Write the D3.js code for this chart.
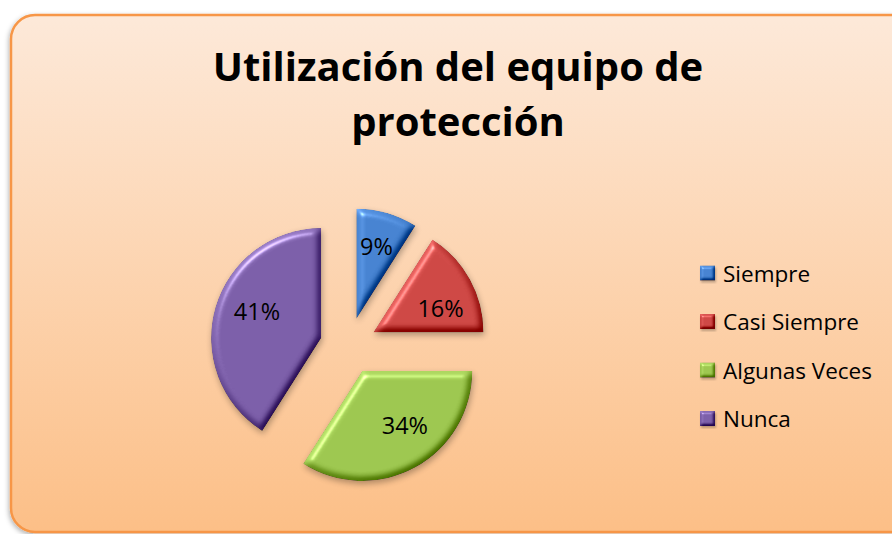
<!DOCTYPE html>
<html>
<head>
<meta charset="utf-8">
<script src="https://cdn.jsdelivr.net/npm/d3@7"></script>
<style>
  html, body { margin: 0; padding: 0; background: #ffffff; }
  svg { display: block; }
</style>
</head>
<body>
<svg id="chart" width="892" height="534"></svg>
<script>
// Survey answers: how often the protective equipment is used
const categories = ["Siempre", "Casi Siempre", "Algunas Veces", "Nunca"];
const values = [9, 16, 34, 41];          // percent of respondents
const sliceColors = ["#4682d0", "#cd4744", "#9cc64f", "#7b5ea8"];
const titleLines = ["Utilización del equipo de", "protección"];
// small per-label nudges (px) so each percentage sits comfortably inside its slice
const labelNudge = [[0, -3], [4, 10], [8, -9], [5, -7]];

const W = 892, H = 534;
const FONT = "'Open Sans', 'Noto Sans', sans-serif";
const svg = d3.select("#chart");
const defs = svg.append("defs");

// Chart area background: soft peach-to-orange vertical gradient
const bg = defs.append("linearGradient").attr("id", "bgGrad")
  .attr("x1", 0).attr("y1", 0).attr("x2", 0).attr("y2", 1);
bg.append("stop").attr("offset", "0%").attr("stop-color", "#fde9d9");
bg.append("stop").attr("offset", "100%").attr("stop-color", "#fcbf87");

const frameShadow = defs.append("filter").attr("id", "frameShadow")
  .attr("x", "-5%").attr("y", "-5%").attr("width", "110%").attr("height", "110%");
frameShadow.append("feDropShadow").attr("dx", -1).attr("dy", 2)
  .attr("stdDeviation", 2.5).attr("flood-color", "#000").attr("flood-opacity", 0.3);

// Soft bevel for the slices: lighting on the blurred alpha, plus a drop shadow
function bevelFilter(id, blur, scale, diffAmt, specAmt, shadowBlur, shadowOpacity, dy) {
  const elev = 50;
  const flat = Math.sin(elev * Math.PI / 180);
  const f = defs.append("filter").attr("id", id)
    .attr("x", "-20%").attr("y", "-20%").attr("width", "140%").attr("height", "140%")
    .attr("color-interpolation-filters", "sRGB");
  f.append("feGaussianBlur").attr("in", "SourceAlpha").attr("stdDeviation", blur).attr("result", "blur");
  const dl = f.append("feDiffuseLighting").attr("in", "blur")
    .attr("surfaceScale", scale).attr("diffuseConstant", 1)
    .attr("lighting-color", "#ffffff").attr("result", "diffuse");
  dl.append("feDistantLight").attr("azimuth", 235).attr("elevation", elev);
  const sl = f.append("feSpecularLighting").attr("in", "blur")
    .attr("surfaceScale", scale).attr("specularConstant", 0.8).attr("specularExponent", 40)
    .attr("lighting-color", "#ffffff").attr("result", "spec");
  sl.append("feDistantLight").attr("azimuth", 235).attr("elevation", 40);
  f.append("feComposite").attr("in", "SourceGraphic").attr("in2", "diffuse")
    .attr("operator", "arithmetic").attr("k1", 0).attr("k2", 1)
    .attr("k3", diffAmt).attr("k4", -diffAmt * flat)
    .attr("result", "lit");
  f.append("feComposite").attr("in", "spec").attr("in2", "SourceAlpha")
    .attr("operator", "in").attr("result", "specIn");
  f.append("feComposite").attr("in", "lit").attr("in2", "specIn")
    .attr("operator", "arithmetic").attr("k1", 0).attr("k2", 1).attr("k3", specAmt).attr("k4", 0)
    .attr("result", "lit2");
  f.append("feComposite").attr("in", "lit2").attr("in2", "SourceAlpha")
    .attr("operator", "in").attr("result", "shape");
  f.append("feGaussianBlur").attr("in", "SourceAlpha").attr("stdDeviation", shadowBlur).attr("result", "sb");
  f.append("feOffset").attr("in", "sb").attr("dx", 1).attr("dy", dy).attr("result", "so");
  f.append("feComponentTransfer").attr("in", "so").attr("result", "shadow")
    .append("feFuncA").attr("type", "linear").attr("slope", shadowOpacity);
  const m = f.append("feMerge");
  m.append("feMergeNode").attr("in", "shadow");
  m.append("feMergeNode").attr("in", "shape");
}
bevelFilter("bevel", 3.5, 5, 0.45, 0.5, 3, 0.3, 3);
bevelFilter("bevelSmall", 1.6, 3, 0.45, 0.4, 1, 0.25, 1.5);

// Frame
svg.append("rect")
  .attr("x", 11).attr("y", 15).attr("width", 905).attr("height", 517)
  .attr("rx", 24).attr("ry", 24)
  .attr("fill", "url(#bgGrad)")
  .attr("stroke", "#f79646").attr("stroke-width", 2.5)
  .attr("filter", "url(#frameShadow)");

// Title
const title = svg.append("text")
  .attr("text-anchor", "middle")
  .attr("font-family", FONT)
  .attr("font-weight", "bold")
  .attr("font-size", 40)
  .attr("fill", "#000");
titleLines.forEach((t, i) => {
  title.append("tspan").attr("x", 458).attr("y", 81 + i * 55).text(t);
});

// Exploded pie
const cx = 348.5, cy = 346, radius = 110, explode = 28.5, labelDist = 72;
const pie = d3.pie().sort(null).value(d => d).startAngle(0).endAngle(2 * Math.PI);
const arcs = pie(values);
const arcGen = d3.arc().innerRadius(0).outerRadius(radius);
const color = d3.scaleOrdinal().domain(categories).range(sliceColors);

const pieG = svg.append("g").attr("transform", `translate(${cx},${cy})`);
const slices = pieG.selectAll("g.slice").data(arcs).enter().append("g")
  .attr("class", "slice")
  .attr("transform", d => {
    const a = (d.startAngle + d.endAngle) / 2;
    return `translate(${explode * Math.sin(a)},${-explode * Math.cos(a)})`;
  });
slices.append("path")
  .attr("d", arcGen)
  .attr("fill", (d, i) => color(categories[i]))
  .attr("filter", "url(#bevel)");
slices.append("text")
  .attr("x", (d, i) => labelDist * Math.sin((d.startAngle + d.endAngle) / 2) + labelNudge[i][0])
  .attr("y", (d, i) => -labelDist * Math.cos((d.startAngle + d.endAngle) / 2) + labelNudge[i][1])
  .attr("text-anchor", "middle")
  .attr("dominant-baseline", "central")
  .attr("font-family", FONT)
  .attr("font-size", 23.5)
  .attr("fill", "#000")
  .text(d => d.data + "%");

// Legend
const legend = svg.append("g").attr("transform", "translate(700,273)");
const items = legend.selectAll("g").data(categories).enter().append("g")
  .attr("transform", (d, i) => `translate(0,${i * 48.5})`);
items.append("rect")
  .attr("x", 0).attr("y", -7.5).attr("width", 15).attr("height", 15)
  .attr("fill", d => color(d))
  .attr("filter", "url(#bevelSmall)");
items.append("text")
  .attr("x", 23).attr("y", 0)
  .attr("dominant-baseline", "central")
  .attr("font-family", FONT)
  .attr("font-size", 22.5)
  .attr("fill", "#000")
  .text(d => d);
</script>
</body>
</html>
